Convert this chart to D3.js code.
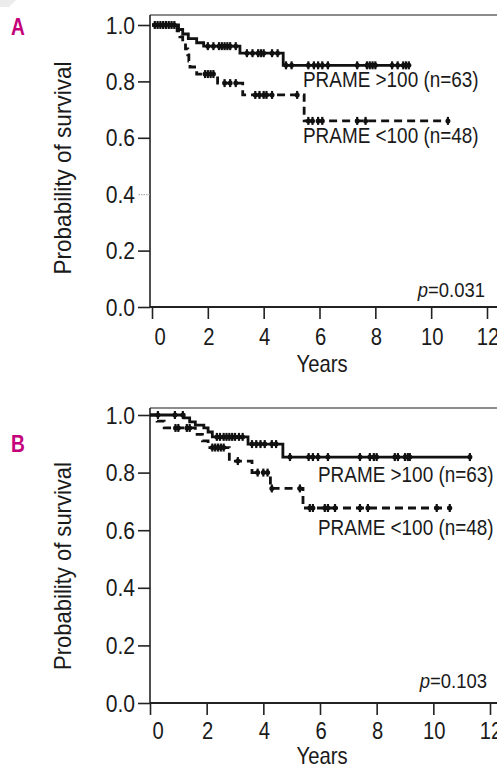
<!DOCTYPE html>
<html><head><meta charset="utf-8">
<script src="https://cdn.jsdelivr.net/npm/d3@7"></script>
<style>html,body{margin:0;padding:0;background:#fff;}svg{display:block;}</style>
</head><body>
<svg id="c" width="497" height="766"></svg>
<script>
// ---------- DATA ----------
const xTicks = [0, 2, 4, 6, 8, 10, 12];
const yTicks = [0, 0.2, 0.4, 0.6, 0.8, 1.0];
const seriesLabels = ["PRAME >100 (n=63)", "PRAME <100 (n=48)"];
const panelLetters = ["A", "B"];
const pValues = ["0.031", "0.103"];

// Panel A, PRAME >100 (solid)
const A_hi_t = [0, 0.95, 1.1, 1.3, 1.6, 1.85, 3.15, 4.7, 9.2];
const A_hi_s = [1.0, 0.984, 0.968, 0.952, 0.937, 0.925, 0.900, 0.857, 0.857];
const A_hi_cens = [0.1,0.2,0.3,0.4,0.5,0.6,0.7,0.8, 2.0,2.2,2.4,2.5,2.6,2.7,2.8,3.0,
  3.4,3.6,3.8,3.9,4.0,4.3,4.5, 4.8,5.0,5.6,5.8,5.95,6.1,6.3,7.35,7.7,7.8,7.9,8.0,8.6,8.8,9.0,9.1,9.2];
// Panel A, PRAME <100 (dashed)
const A_lo_t = [0, 0.9, 1.0, 1.1, 1.2, 1.28, 1.32, 1.36, 1.6, 2.35, 3.25, 5.45, 10.6];
const A_lo_s = [1.0, 0.979, 0.958, 0.936, 0.915, 0.894, 0.872, 0.851, 0.826, 0.794, 0.752, 0.66, 0.66];
const A_lo_cens = [1.9,2.0,2.1,2.2, 2.6,2.8,3.0, 3.7,3.85,4.0,4.1,4.3, 5.2, 5.6,5.75,5.95,6.1, 7.35,7.65, 10.6];

// Panel B, PRAME >100 (solid)
const B_hi_t = [0, 1.2, 1.4, 1.6, 1.9, 2.05, 2.2, 3.46, 4.69, 11.29];
const B_hi_s = [1.0, 0.99, 0.976, 0.965, 0.955, 0.941, 0.924, 0.899, 0.854, 0.854];
const B_hi_cens = [0.28, 0.88, 1.16, 2.36,2.47,2.6,2.7,2.8,2.9,3.0,3.14,3.27,
  3.6,3.75,3.9,4.05,4.3,4.45, 4.94,5.6,5.75,5.93,6.28,7.41,7.76,7.9,8.0,8.64,8.75,9.0,9.1,9.17,11.29];
// Panel B, PRAME <100 (dashed)
const B_lo_t = [0, 0.25, 0.5, 1.6, 1.85, 2.05, 2.8, 3.6, 4.25, 5.4, 10.58];
const B_lo_s = [1.0, 0.979, 0.955, 0.933, 0.91, 0.887, 0.84, 0.80, 0.745, 0.677, 0.677];
const B_lo_cens = [0.9,1.0,1.3,1.4, 2.2,2.3,2.4,2.5,2.6, 3.1, 3.8,4.0,4.15, 4.3,5.29,
  5.64,5.75,6.17,6.28,6.53,7.41,7.69,10.12,10.58];

// ---------- DRAW ----------
const svg = d3.select("#c");
const FONT = "'Liberation Sans', Arial, Helvetica, sans-serif";

function txt(g, x, y, s, o = {}) {
  const t = g.append("text")
    .attr("transform", `translate(${x},${y}) scale(${o.sx ?? 0.88},1)`)
    .attr("text-anchor", o.anchor || "start")
    .attr("font-family", FONT)
    .attr("font-size", o.size || 23)
    .attr("font-weight", o.weight || "normal")
    .attr("fill", o.fill || "#1a1a1a");
  if (s !== null) t.text(s);
  return t;
}

// faint watermark fragment top-left
svg.append("polygon").attr("points", "0,0 16,0 9,7 0,7").attr("fill", "#ececec");

function stepAt(ts, ss, t) {
  let v = ss[0];
  for (let i = 0; i < ts.length; i++) if (ts[i] <= t) v = ss[i];
  return v;
}

function panel(cfg, curves, letter, pval) {
  const g = svg.append("g");
  const x = d3.scaleLinear().domain([0, 12]).range(cfg.xr);
  const y = d3.scaleLinear().domain([0, 1]).range(cfg.yr);
  const left = 150, right = 497, bottom = cfg.yr[0];

  // frame
  g.append("line").attr("x1", left).attr("x2", right).attr("y1", cfg.top).attr("y2", cfg.top)
    .attr("stroke", "#666").attr("stroke-width", 1.3);
  g.append("line").attr("x1", left).attr("x2", left).attr("y1", cfg.top).attr("y2", bottom)
    .attr("stroke", "#222").attr("stroke-width", 1.6);
  g.append("line").attr("x1", left).attr("x2", right).attr("y1", bottom).attr("y2", bottom)
    .attr("stroke", "#222").attr("stroke-width", 1.8);

  // y axis ticks via d3 axis
  const ya = g.append("g").attr("transform", `translate(${left},0)`)
    .call(d3.axisLeft(y).tickValues(yTicks).tickSize(12).tickFormat(""));
  ya.select(".domain").remove();
  ya.selectAll(".tick line").attr("stroke", "#222").attr("stroke-width", 1.6);
  if (cfg.faint04) ya.selectAll(".tick").filter(d => d === 0.4).select("line")
    .attr("stroke", "#999").attr("stroke-width", 1).attr("stroke-dasharray", "1.5,1");
  yTicks.forEach(v => txt(g, 135, y(v) + 8.5, d3.format(".1f")(v), { anchor: "end", size: 24 }));

  // x axis ticks via d3 axis
  const xa = g.append("g").attr("transform", `translate(0,${bottom})`)
    .call(d3.axisBottom(x).tickValues(xTicks).tickSize(12).tickFormat(""));
  xa.select(".domain").remove();
  xa.selectAll(".tick line").attr("stroke", "#222").attr("stroke-width", 1.6);
  xTicks.forEach(v => txt(g, x(v) + (v === 0 ? 8 : 1), bottom + cfg.xlab, String(v), { anchor: "middle", size: 23 }));
  txt(g, 322, bottom + cfg.years, "Years", { anchor: "middle", size: 23 });

  // y axis title
  g.append("text")
    .attr("transform", `translate(71,${cfg.ylabC}) rotate(-90)`)
    .attr("text-anchor", "middle").attr("font-family", FONT).attr("font-size", 24)
    .attr("fill", "#1a1a1a").attr("textLength", cfg.ylabL).attr("lengthAdjust", "spacingAndGlyphs")
    .text("Probability of survival");

  // panel letter
  txt(g, 11, cfg.letterY, letter, { size: 24, weight: "bold", fill: "#c4007a", sx: 0.8 });

  // curves
  const line = d3.line().x(d => x(d[0])).y(d => y(d[1])).curve(d3.curveStepAfter);
  curves.forEach(c => {
    const pts = c.t.map((t, i) => [t, c.s[i]]);
    g.append("path").attr("d", line(pts)).attr("fill", "none").attr("stroke", "#111")
      .attr("stroke-width", 2.8).attr("stroke-dasharray", c.dash ? "8,5" : null);
    c.cens.forEach(ct => {
      const cx = x(ct), cy = y(stepAt(c.t, c.s, ct));
      g.append("line").attr("x1", cx).attr("x2", cx).attr("y1", cy - 4).attr("y2", cy + 4)
        .attr("stroke", "#111").attr("stroke-width", 2.2);
      g.append("circle").attr("cx", cx).attr("cy", cy).attr("r", 2.5).attr("fill", "#111");
    });
  });

  // legend labels
  txt(g, cfg.labX, cfg.labY[0], seriesLabels[0], { size: 21.5 });
  txt(g, cfg.labX, cfg.labY[1], seriesLabels[1], { size: 21.5 });

  // p value
  const pt = txt(g, cfg.pX, cfg.pY, null, { anchor: "end", size: 21 });
  pt.append("tspan").attr("font-style", "italic").text("p");
  pt.append("tspan").text("=" + pval);
}

panel({ xr: [152, 487], yr: [307, 25], top: 15, xlab: 38, years: 65, ylabC: 168, ylabL: 213,
        letterY: 35, labX: 303, labY: [87, 143], pX: 485, pY: 297, faint04: true },
  [{ t: A_hi_t, s: A_hi_s, cens: A_hi_cens, dash: false },
   { t: A_lo_t, s: A_lo_s, cens: A_lo_cens, dash: true }], panelLetters[0], pValues[0]);

panel({ xr: [150, 490], yr: [703, 415], top: 408, xlab: 36, years: 61, ylabC: 566, ylabL: 208,
        letterY: 452, labX: 318, labY: [482, 535], pX: 487, pY: 688, faint04: false },
  [{ t: B_hi_t, s: B_hi_s, cens: B_hi_cens, dash: false },
   { t: B_lo_t, s: B_lo_s, cens: B_lo_cens, dash: true }], panelLetters[1], pValues[1]);
</script>
</body></html>
